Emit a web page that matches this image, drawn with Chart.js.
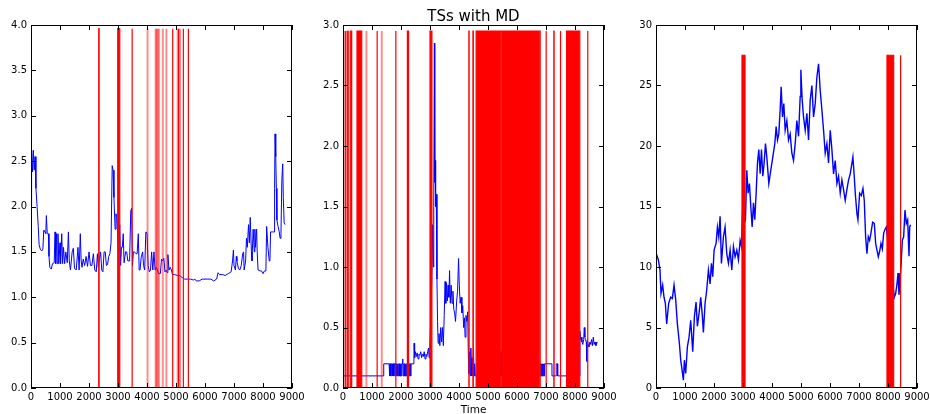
<!DOCTYPE html>
<html>
<head>
<meta charset="utf-8">
<script src="https://cdn.jsdelivr.net/npm/chart.js@4.4.1/dist/chart.umd.min.js"></script>
<style>
  body { margin: 0; background: #fff; width: 930px; height: 414px; position: relative; overflow: hidden; font-family: "DejaVu Sans", sans-serif; }
  canvas { position: absolute; top: 0; }
  .lbl { position: absolute; white-space: nowrap; color: #000; transform: translateX(-50%); }
</style>
</head>
<body>
<canvas id="ts1" width="314" height="414" style="left:0px"></canvas>
<canvas id="ts2" width="314" height="414" style="left:312px"></canvas>
<canvas id="ts3" width="305" height="414" style="left:625px"></canvas>
<div class="lbl" style="left:473.5px;top:9px;font-size:15px;line-height:15px">TSs with MD</div>
<div class="lbl" style="left:473.5px;top:404px;font-size:10.5px;line-height:10.5px">Time</div>
<script>
// time series: [time, value]
const ts1 = [
  [0,2.0],[20,2.62],[50,2.38],[80,2.62],[110,2.4],[140,2.55],[170,2.2],[210,2.0],[250,1.78],[280,1.58],
  [320,1.53],[370,1.51],[410,1.53],[440,1.74],[480,1.72],[510,1.7],[530,1.9],[560,1.7],[600,1.7],[620,1.45],
  [650,1.33],[700,1.31],[740,1.37],[800,1.38],[830,1.72],[850,1.37],[880,1.7],[900,1.37],[930,1.7],[960,1.37],
  [1000,1.6],[1020,1.37],[1060,1.7],[1090,1.37],[1120,1.55],[1160,1.37],[1200,1.5],[1250,1.38],[1290,1.72],[1320,1.4],
  [1360,1.3],[1420,1.5],[1460,1.54],[1500,1.32],[1560,1.3],[1620,1.55],[1660,1.3],[1700,1.7],[1730,1.4],[1760,1.33],
  [1800,1.42],[1850,1.35],[1900,1.45],[1950,1.34],[2000,1.5],[2050,1.35],[2100,1.35],[2150,1.48],[2200,1.3],[2250,1.28],
  [2290,1.48],[2320,1.33],[2360,1.42],[2400,1.5],[2440,1.3],[2480,1.28],[2520,1.5],[2560,1.5],[2600,1.35],[2640,1.36],
  [2680,1.45],[2720,1.48],[2760,1.6],[2800,2.45],[2830,2.4],[2860,2.1],[2900,1.75],[2930,1.92],[2960,1.88],[3000,1.6],
  [3020,1.5],[3060,1.8],[3090,1.35],[3120,1.55],[3150,1.55],[3180,1.7],[3210,1.38],[3260,1.5],[3300,1.5],[3340,1.4],
  [3400,1.4],[3440,1.95],[3470,1.98],[3500,1.35],[3530,1.5],[3570,1.5],[3620,1.48],[3660,1.48],[3700,1.7],[3730,1.3],
  [3760,1.3],[3800,1.44],[3850,1.5],[3880,1.35],[3920,1.3],[3960,1.72],[4000,1.71],[4040,1.35],[4080,1.28],[4120,1.3],
  [4160,1.5],[4200,1.3],[4240,1.5],[4280,1.3],[4320,1.33],[4360,1.3],[4400,1.26],[4460,1.26],[4500,1.42],[4540,1.4],
  [4580,1.43],[4620,1.28],[4660,1.3],[4700,1.27],[4720,1.47],[4760,1.3],[4800,1.33],[4840,1.3],[4880,1.25],[4950,1.25],
  [5050,1.24],[5120,1.24],[5200,1.22],[5300,1.2],[5400,1.2],[5500,1.2],[5600,1.19],[5650,1.2],[5700,1.18],[5800,1.18],
  [5900,1.2],[6000,1.2],[6100,1.2],[6200,1.2],[6300,1.18],[6400,1.2],[6450,1.27],[6500,1.25],[6600,1.25],[6700,1.24],
  [6800,1.26],[6900,1.28],[6950,1.4],[6980,1.52],[7000,1.35],[7050,1.3],[7080,1.45],[7100,1.4],[7150,1.32],[7200,1.3],
  [7250,1.35],[7300,1.48],[7330,1.5],[7350,1.3],[7400,1.4],[7430,1.65],[7460,1.55],[7500,1.8],[7530,1.6],[7560,1.88],
  [7600,1.5],[7620,1.4],[7660,1.75],[7700,1.5],[7720,1.75],[7740,1.55],[7780,1.75],[7800,1.5],[7830,1.3],[7900,1.29],
  [7950,1.29],[8000,1.26],[8050,1.29],[8100,1.29],[8125,1.78],[8170,1.55],[8215,1.4],[8240,1.42],[8261,1.72],[8320,1.72],
  [8380,1.72],[8400,2.2],[8415,2.8],[8440,2.55],[8460,2.2],[8480,1.85],[8520,1.78],[8560,1.72],[8590,1.65],[8620,1.7],
  [8650,2.3],[8680,2.47],[8700,2.1],[8730,1.82],[8760,1.8]
];

const ts2 = [
  [0,0.1],[1400,0.1],[1405,0.2],[1590,0.2],[1592,0.1],[1615,0.1],[1617,0.2],[1640,0.2],[1642,0.1],[1665,0.1],
  [1667,0.2],[1690,0.2],[1692,0.1],[1715,0.1],[1717,0.2],[1745,0.2],[1747,0.1],[1765,0.1],[1767,0.2],[1795,0.2],
  [1797,0.1],[1815,0.1],[1817,0.2],[1845,0.2],[1847,0.1],[1870,0.1],[1872,0.2],[1895,0.2],[1897,0.1],[1920,0.1],
  [1922,0.2],[1945,0.2],[1947,0.1],[1970,0.1],[1972,0.2],[1995,0.2],[1997,0.1],[2020,0.1],[2022,0.2],[2040,0.2],
  [2060,0.24],[2070,0.1],[2095,0.1],[2097,0.2],[2120,0.2],[2122,0.1],[2145,0.1],[2147,0.2],[2170,0.2],[2172,0.1],
  [2195,0.1],[2197,0.2],[2220,0.2],[2222,0.1],[2245,0.1],[2247,0.2],[2270,0.2],[2272,0.1],[2295,0.1],[2297,0.2],
  [2320,0.2],[2322,0.1],[2345,0.1],[2347,0.2],[2445,0.2],[2452,0.37],[2470,0.25],[2500,0.3],[2530,0.26],[2560,0.29],
  [2590,0.24],[2620,0.28],[2650,0.27],[2680,0.3],[2710,0.25],[2740,0.28],[2770,0.26],[2800,0.3],[2830,0.24],[2860,0.28],
  [2890,0.26],[2920,0.3],[2950,0.33],[2970,0.25],[2990,0.3],[3060,0.88],[3090,1.35],[3110,1.0],[3130,1.5],[3150,2.85],
  [3165,1.7],[3175,1.88],[3195,1.5],[3215,1.6],[3240,0.9],[3260,0.55],[3280,0.37],[3310,0.45],[3340,0.35],[3370,0.5],
  [3400,0.38],[3430,0.5],[3460,0.35],[3490,0.6],[3520,0.88],[3545,0.7],[3570,0.87],[3600,0.72],[3625,0.85],[3650,0.75],
  [3675,0.97],[3700,0.7],[3730,0.85],[3760,0.7],[3790,0.8],[3820,0.65],[3850,0.62],[3880,0.55],[3920,0.72],[3950,0.8],
  [3985,1.07],[4010,0.85],[4040,0.7],[4070,0.75],[4100,0.62],[4130,0.68],[4160,0.5],[4190,0.58],[4210,0.42],[4240,0.6],
  [4270,0.55],[4300,0.63],[4320,0.3],[4340,0.12],[4370,0.3],[4390,0.1],[4410,0.33],[4430,0.1],[4450,0.25],[4480,0.1],
  [4500,0.33],[4520,0.1],[4540,0.2],[4560,0.1],[5440,0.1],[5450,0.3],[5460,0.1],[6760,0.1],[6790,0.1],[6792,0.2],
  [6810,0.2],[6812,0.1],[6830,0.1],[6832,0.2],[6850,0.2],[6852,0.1],[6872,0.1],[6874,0.2],[6890,0.2],[6892,0.1],
  [6912,0.1],[6914,0.2],[6930,0.2],[6932,0.1],[6950,0.1],[6952,0.2],[7205,0.2],[7207,0.1],[7350,0.1],[7352,0.2],
  [7400,0.2],[7402,0.1],[7710,0.1],[8165,0.1],[8170,0.47],[8190,0.4],[8210,0.42],[8240,0.38],[8270,0.36],[8300,0.4],
  [8320,0.5],[8340,0.42],[8360,0.4],[8390,0.38],[8410,0.22],[8425,0.4],[8450,0.36],[8480,0.34],[8510,0.38],[8540,0.36],
  [8570,0.4],[8600,0.35],[8630,0.42],[8660,0.36],[8690,0.38],[8720,0.35],[8750,0.38],[8770,0.37]
];

const ts3 = [
  [0,10.8],[23,11.0],[80,10.6],[138,9.75],[173,7.8],[230,8.5],[276,7.5],[322,7.0],[368,5.3],[437,7.0],
  [506,7.5],[564,7.4],[622,8.5],[679,7.3],[737,5.3],[806,3.7],[852,2.3],[898,1.5],[944,0.65],[978,2.3],
  [1024,1.2],[1082,3.4],[1140,4.2],[1197,5.6],[1266,3.0],[1324,5.9],[1381,7.1],[1427,5.1],[1496,6.4],[1542,7.5],
  [1600,5.9],[1634,4.6],[1692,7.0],[1749,8.1],[1807,9.75],[1865,8.6],[1911,10.3],[1957,9.2],[2003,11.4],[2072,11.95],
  [2118,13.3],[2164,12.5],[2210,14.2],[2256,10.3],[2325,12.5],[2382,13.3],[2440,11.1],[2498,10.3],[2555,11.4],[2613,9.75],
  [2670,11.7],[2728,10.85],[2785,11.4],[2843,10.6],[2901,12.2],[2947,11.7],[2981,14.4],[3039,13.6],[3085,13.9],[3131,18.0],
  [3177,16.1],[3223,16.9],[3269,15.0],[3315,13.3],[3361,15.3],[3407,13.9],[3453,16.1],[3499,18.6],[3545,19.7],[3591,17.7],
  [3637,19.7],[3683,17.5],[3729,18.6],[3775,20.2],[3821,19.1],[3890,16.9],[3959,18.0],[4028,19.1],[4097,20.2],[4143,21.6],
  [4189,20.5],[4235,21.0],[4281,23.0],[4316,24.9],[4362,22.4],[4408,23.5],[4454,21.3],[4512,22.1],[4569,20.5],[4627,21.0],
  [4685,19.4],[4742,18.8],[4800,20.2],[4857,22.1],[4915,20.8],[4972,24.1],[4995,26.3],[5041,23.8],[5087,22.4],[5145,21.3],
  [5203,22.7],[5260,20.5],[5318,23.8],[5375,25.0],[5433,22.4],[5490,23.5],[5548,25.7],[5605,26.8],[5663,24.6],[5720,23.0],
  [5778,21.3],[5835,19.4],[5893,20.2],[5950,18.6],[6008,21.3],[6065,19.7],[6123,17.7],[6180,18.8],[6238,16.9],[6295,17.5],
  [6353,16.1],[6410,17.2],[6468,16.4],[6525,15.5],[6583,16.4],[6640,17.2],[6698,17.7],[6790,19.1],[6836,17.5],[6871,16.1],
  [6929,14.4],[6963,13.9],[7021,16.1],[7079,15.9],[7136,16.5],[7182,15.5],[7228,12.5],[7274,11.1],[7320,12.5],[7366,12.2],
  [7412,12.8],[7470,13.7],[7528,13.6],[7574,11.95],[7620,11.4],[7666,10.85],[7712,11.3],[7758,11.95],[7804,11.5],[7850,12.8],
  [7896,13.1],[7942,13.3],[7965,12.8],[8218,7.5],[8264,7.8],[8310,8.6],[8345,9.5],[8379,7.7],[8448,10.0],[8494,12.2],
  [8540,12.5],[8586,14.7],[8632,13.6],[8678,13.9],[8724,10.9],[8747,13.3],[8780,13.5]
];

// missing-data intervals [start, end]; zero length = single missing hour
const md1 = [
  [2335,2350],[2990,3060],[3485,3490],[4020,4020],[4300,4300],[4330,4330],[4365,4365],[4410,4410],
  [4545,4545],[4670,4670],[4880,4890],[5060,5060],[5085,5090],[5140,5140],[5250,5255],[5420,5430]
];
const md2 = [
  [40,40],[85,95],[140,150],[170,175],[200,200],[265,300],[483,645],[807,807],[1174,1180],[1336,1336],
  [1815,1825],[2220,2260],[3000,3065],[4340,4350],[4480,4495],[4590,5440],[5475,6760],[6790,6800],
  [7000,7010],[7270,7280],[7495,7505],[7710,8165],[8430,8445]
];
const md3 = [[2965,3070],[7965,8195],[8415,8445]];

const yMaxes = [4, 3, 30];
const ySteps = [0.5, 0.5, 5];
const mdTops = [3.96, 2.95, 27.5];

// matplotlib-like frame with inward ticks on all four sides
const framePlugin = {
  id: 'frame',
  afterDraw(chart) {
    const { ctx, chartArea: a, scales: { x, y } } = chart;
    ctx.save();
    ctx.strokeStyle = '#000';
    ctx.lineWidth = 1;
    ctx.strokeRect(a.left + 0.5, a.top + 0.5, a.right - a.left - 1, a.bottom - a.top - 1);
    ctx.beginPath();
    x.ticks.forEach(t => {
      const px = Math.round(x.getPixelForValue(t.value)) + 0.5;
      ctx.moveTo(px, a.bottom); ctx.lineTo(px, a.bottom - 5);
      ctx.moveTo(px, a.top); ctx.lineTo(px, a.top + 5);
    });
    y.ticks.forEach(t => {
      const py = Math.round(y.getPixelForValue(t.value)) + 0.5;
      ctx.moveTo(a.left, py); ctx.lineTo(a.left + 5, py);
      ctx.moveTo(a.right, py); ctx.lineTo(a.right - 5, py);
    });
    ctx.stroke();
    ctx.restore();
  }
};

function makePanel(id, series, gaps, yMax, yStep, top, padRight, lineWidth) {
  const datasets = [];
  gaps.forEach(([a, b]) => {
    if (a === b) {
      datasets.push({
        data: [{x: a, y: 0}, {x: a, y: top}],
        borderColor: 'rgba(255,0,0,0.45)', borderWidth: 2,
        pointRadius: 0, fill: false, order: 0
      });
    } else {
      datasets.push({
        data: [{x: a, y: 0}, {x: a, y: top}, {x: b, y: top}, {x: b, y: 0}],
        borderColor: '#ff0000', backgroundColor: '#ff0000', borderWidth: 1.2,
        pointRadius: 0, fill: 'origin', order: 0
      });
    }
  });
  datasets.push({
    data: series.map(([x, y]) => ({x, y})),
    borderColor: '#0000ff', borderWidth: lineWidth, pointRadius: 0,
    fill: false, tension: 0, order: 1
  });

  const tickFont = { family: 'DejaVu Sans', size: 10 };
  return new Chart(document.getElementById(id), {
    type: 'line',
    data: { datasets },
    options: {
      responsive: false,
      animation: false,
      events: [],
      layout: { padding: { top: 25, right: padRight, left: 0, bottom: 0 } },
      plugins: { legend: { display: false }, tooltip: { enabled: false } },
      scales: {
        x: {
          type: 'linear', min: 0, max: 9000,
          ticks: { stepSize: 1000, color: '#000', font: tickFont, padding: 3, maxRotation: 0, autoSkip: false,
                   callback: v => String(v) },
          grid: { display: false, drawTicks: false },
          border: { display: false },
          afterFit: s => { s.height = 26; s.paddingLeft = 0; s.paddingRight = 0; }
        },
        y: {
          min: 0, max: yMax,
          ticks: { stepSize: yStep, color: '#000', font: tickFont, padding: 4,
                   callback: v => yStep < 1 ? v.toFixed(1) : String(v) },
          grid: { display: false, drawTicks: false },
          border: { display: false },
          afterFit: s => { s.width = 31; s.paddingTop = 0; s.paddingBottom = 0; }
        }
      }
    },
    plugins: [framePlugin]
  });
}

makePanel('ts1', ts1, md1, yMaxes[0], ySteps[0], mdTops[0], 22, 1);
makePanel('ts2', ts2, md2, yMaxes[1], ySteps[1], mdTops[1], 22, 1);
makePanel('ts3', ts3, md3, yMaxes[2], ySteps[2], mdTops[2], 13, 1.4);
</script>
</body>
</html>
